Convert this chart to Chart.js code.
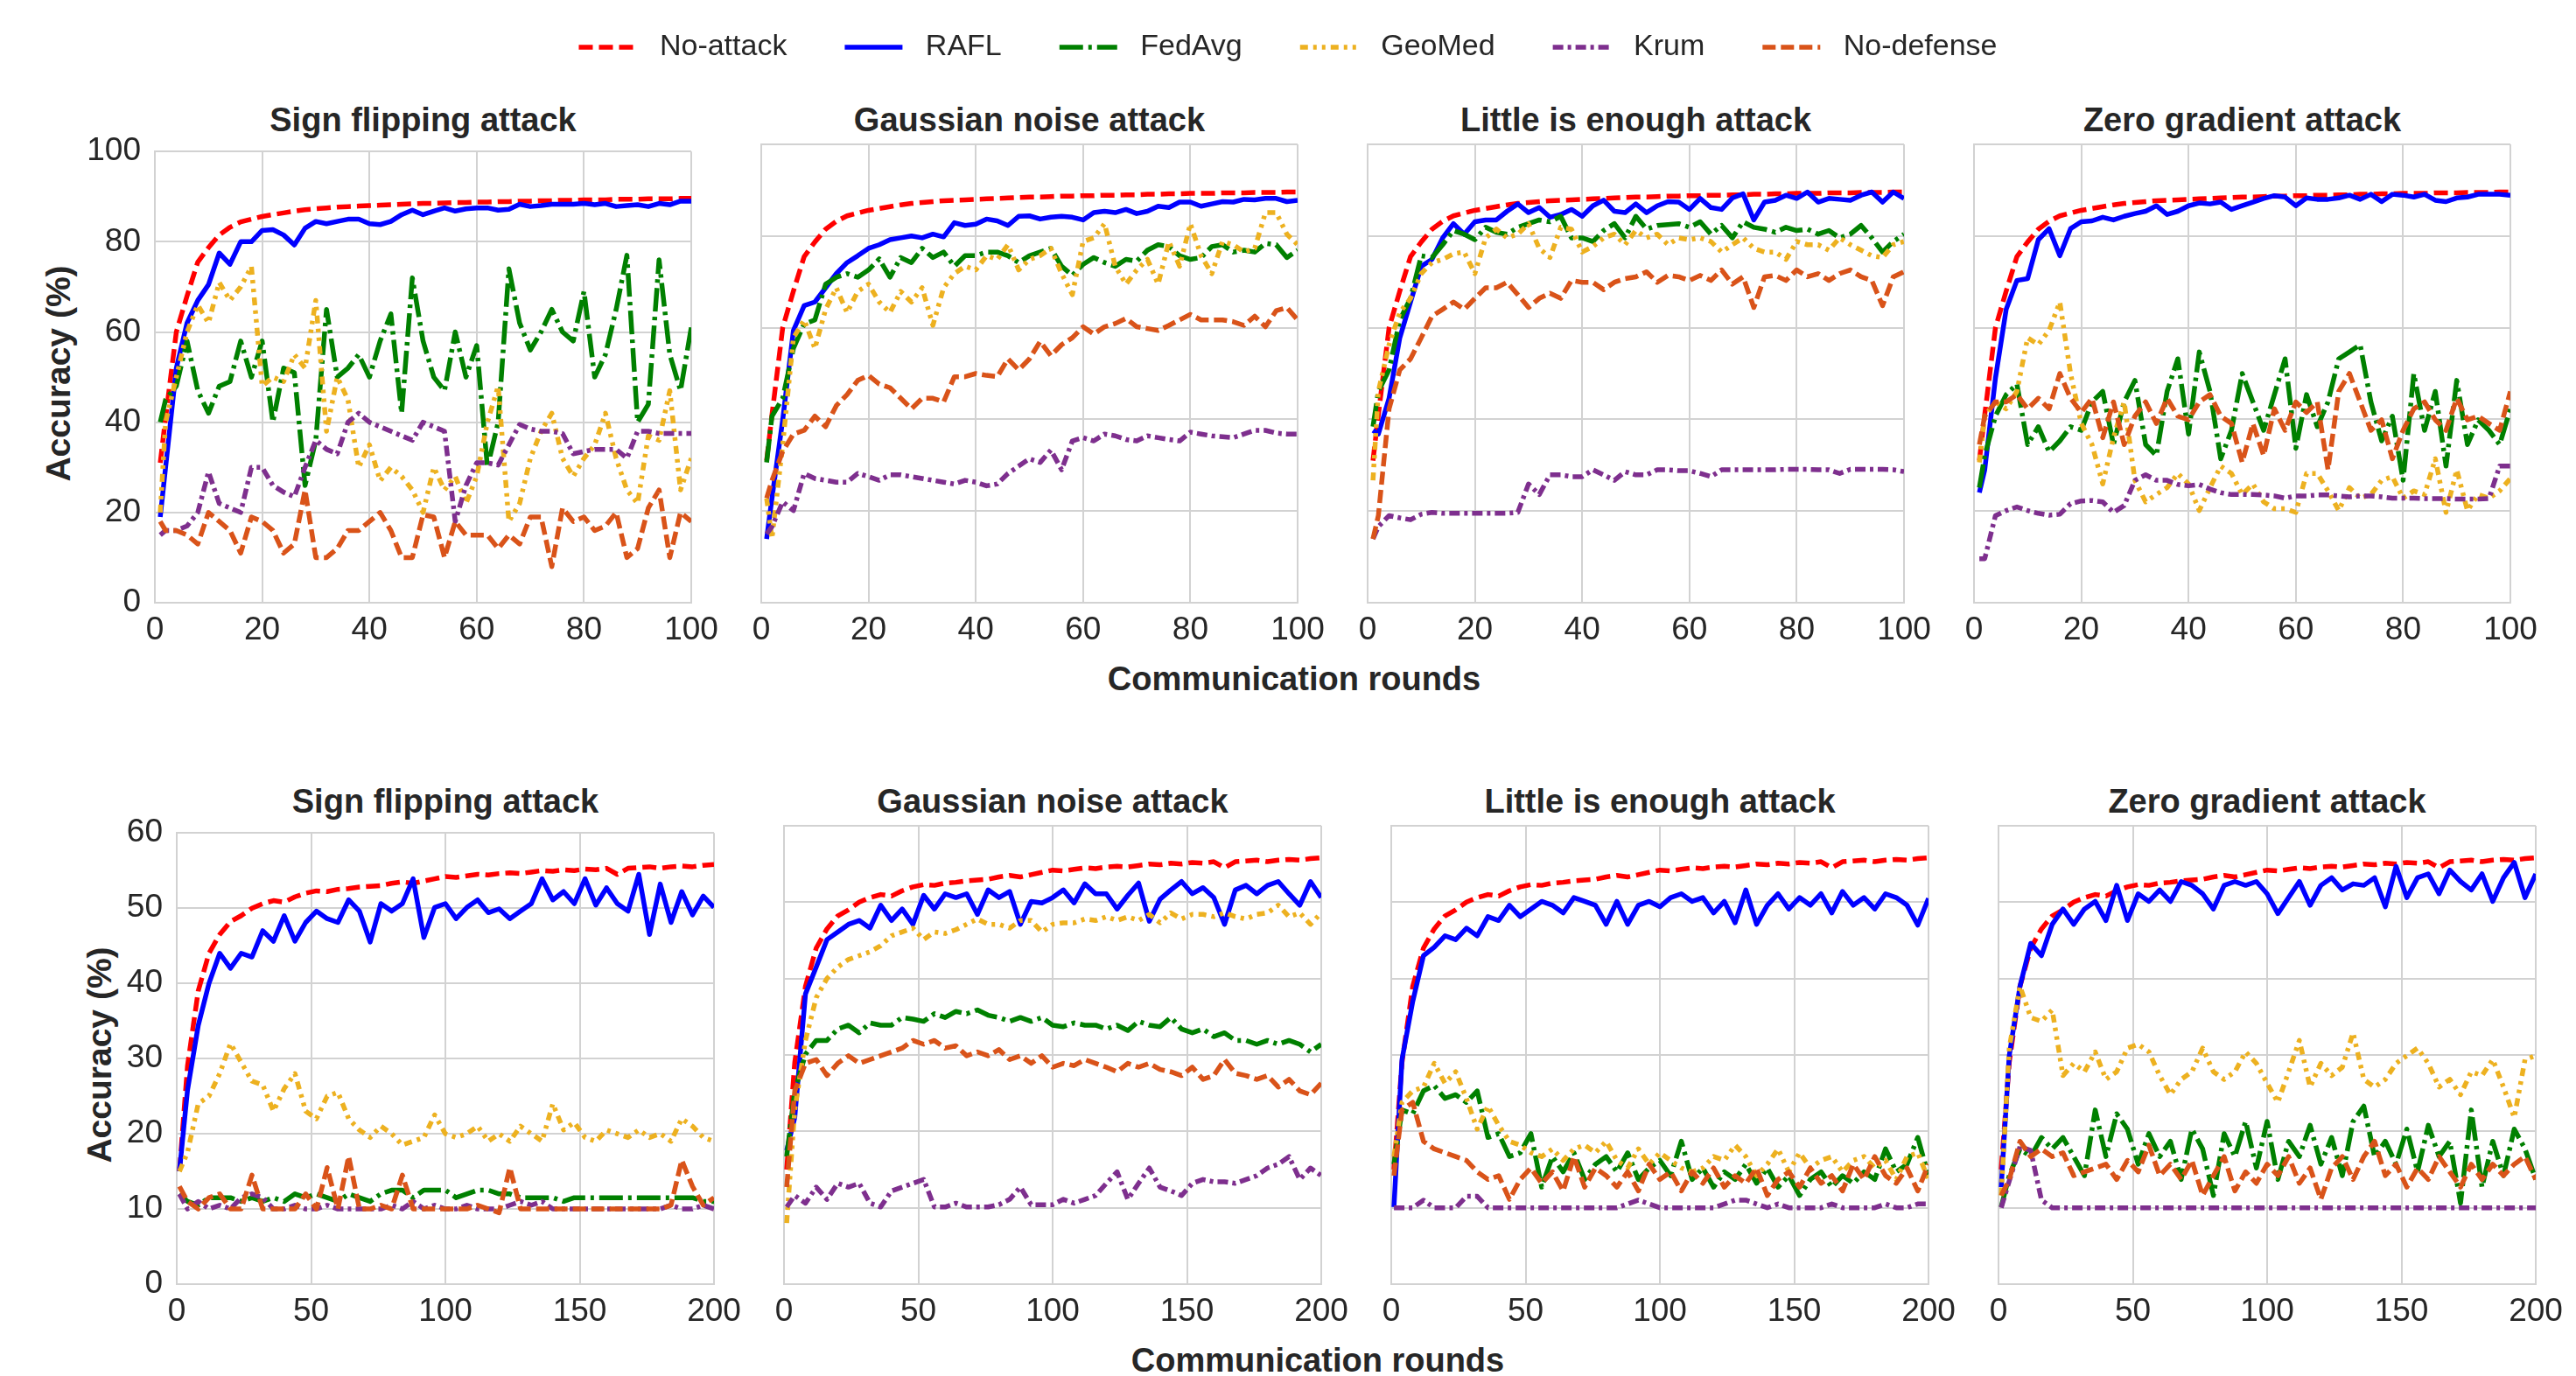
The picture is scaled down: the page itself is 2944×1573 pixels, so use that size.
<!DOCTYPE html>
<html>
<head>
<meta charset="utf-8">
<script src="https://cdn.jsdelivr.net/npm/chart.js@4.4.1/dist/chart.umd.min.js"></script>
<style>
  html, body { margin: 0; padding: 0; background: #fff; }
  body { width: 2944px; height: 1573px; position: relative; overflow: hidden;
         font-family: "Liberation Sans", Arial, sans-serif; color: #262626; }
  canvas { position: absolute; }
  .lbl { position: absolute; font-weight: bold; font-size: 38px; line-height: 1;
         white-space: nowrap; transform: translate(-50%, -50%); }
  .ylbl { transform: translate(-50%, -50%) rotate(-90deg); font-size: 39px; }
</style>
</head>
<body>
<div class="lbl" style="left:1479px;top:776px">Communication rounds</div>
<div class="lbl" style="left:1506px;top:1555px">Communication rounds</div>
<div class="lbl ylbl" style="left:66px;top:427px">Accuracy (%)</div>
<div class="lbl ylbl" style="left:113px;top:1206px">Accuracy (%)</div>
<script>
// ---- rounds (x values) ----
const roundsTop = [1,2,4,6,8,10,12,14,16,18,20,22,24,26,28,30,32,34,36,38,40,42,44,46,48,50,
  52,54,56,58,60,62,64,66,68,70,72,74,76,78,80,82,84,86,88,90,92,94,96,98,100];
const roundsBottom = [1,4,8,12,16,20,24,28,32,36,40,44,48,52,56,60,64,68,72,76,80,84,88,92,96,100,
  104,108,112,116,120,124,128,132,136,140,144,148,152,156,160,164,168,172,176,180,184,188,192,196,200];

const seriesNames = ["No-attack", "RAFL", "FedAvg", "GeoMed", "Krum", "No-defense"];
const panelTitles = ["Sign flipping attack", "Gaussian noise attack", "Little is enough attack", "Zero gradient attack"];
const xTicksTop = [0, 100, 20];      // min, max, step
const yTicksTop = [0, 100, 20];
const xTicksBottom = [0, 200, 50];
const yTicksBottom = [0, 60, 10];

// ---- top row (accuracy %, 100 rounds) ----
const noAttackTop = [31,
  41,60,68,75.5,78.7,81.5,83.2,84.4,85,85.6,
  86,86.4,86.8,87.1,87.3,87.5,87.7,87.8,87.9,88,
  88.1,88.2,88.3,88.4,88.5,88.5,88.6,88.7,88.7,88.8,
  88.8,88.9,88.9,89,89,89.1,89.1,89.2,89.2,89.3,
  89.3,89.3,89.4,89.4,89.4,89.5,89.5,89.5,89.6,89.6];

const signTopRAFL = [19,
  30,52,62,67,70.5,77.5,75,80,80,82.5,
  82.7,81.5,79.3,83,84.5,84,84.5,85,85,84,
  83.8,84.5,86,87,86,86.8,87.5,86.8,87.3,87.5,
  87.5,87,87.2,88.3,87.8,88,88.3,88.3,88.3,88.5,
  88.2,88.5,87.8,88,88.2,87.8,88.5,88.2,89,89];
const signTopFedAvg = [40,
  45,48,58,47,42,48,49,58,50,58,
  40,52,51,26,36,65,50,52,55,50,
  58,64,42,72,58,50,47,60,50,57,
  30,40,74,62,56,60,65,60,58,69,
  50,55,65,77,40,44,76,55,47,61];
const signTopGeoMed = [20,
  40,50,60,66,62,71,67,70,74.5,48,
  50,49,55,52,67,38,50,45,30,35,
  27,30,28,25,20,30,25,28,22,28,
  40,48,18,22,32,38,42,32,28,32,
  35,42,32,25,22,37,36,47,25,32];
const signTopKrum = [15,
  16,16,17,20,29,22,21,20,30,30,
  26,24.5,23.5,30,36,34,33,40,42,40,
  39,38,37,36,40,39,38,18,26,31,
  31,30.5,35,39.5,38.5,38,38,37.5,33,33.5,
  34,34,34,32,38,38,37.5,37.5,37.5,37.5];
const signTopNoDef = [18,
  16,16,15,13,20,18,16,11,19,18,
  16,11,13,25,10,10,12,16,16,18,
  20,16,10,10,19.5,19,10,18,15,15,
  15,12,15,13,19,19,8,21,18,19,
  16,17,20,10,12,21,25,10,20,18];

const gaussTopRAFL = [13.9,
  22.8,39.9,59.4,64.8,65.6,68.7,71.8,74.2,75.7,77.3,
  78.1,79.2,79.6,80,79.6,80.4,79.8,82.9,82.3,82.6,
  83.7,83.3,82.3,84.3,84.4,83.7,84.1,84.3,84.1,83.5,
  85.1,85.4,85.1,85.8,84.9,85.4,86.5,86.2,87.4,87.4,
  86.5,87,87.5,87.4,88,87.9,88.2,88.2,87.5,87.8];
const gaussTopFedAvg = [30.6,
  40.7,44.6,55.5,60.8,61.7,69.5,71,71.8,71,72.6,
  75,71,75.3,74.2,77.3,75.3,76.5,73.4,75.7,75.7,
  76.5,76.5,75.7,74.2,75.7,76.5,77.3,73.4,71.4,73.8,
  75.3,74.2,73.4,74.9,74.5,76.9,78.1,77.7,75.7,74.9,
  75.3,77.7,78.1,76.5,76.9,76.5,78.4,78.1,75.3,76.9];
const gaussTopGeoMed = [22.8,
  14,34.5,57.8,61.7,55.5,64,68.7,63.3,67.9,69.5,
  65.6,63.3,67.9,65.6,68.7,60.5,68.7,71.8,73.4,72.6,
  75.7,74.9,78.1,72.6,74.9,75.7,77.3,71.8,67.2,78.8,
  79.6,82.7,73.4,69.5,72.6,74.9,69.5,78.8,73.4,82.7,
  75.7,71.8,78.8,78.1,76.5,77.3,85.1,85.1,80.4,78.1];
const gaussTopKrum = [15,
  16.6,22,20.1,28.2,27.1,26.7,26.3,26.3,28.2,27.5,
  26.7,27.9,27.9,27.5,27.1,26.7,26.3,25.9,26.7,26.3,
  25.5,25.9,28.2,29.8,31.4,30.6,33.3,29,35.3,36,
  35.3,36.8,36.4,35.6,35.3,36.4,36,35.6,35.3,37.2,
  36.8,36.4,36.2,36,36.8,37.6,37.6,37,36.8,36.8];
const gaussTopNoDef = [22.8,
  26.7,33,36.8,37.6,40.7,38.4,43,45.4,48.5,49.6,
  47.7,46.9,44.6,42.3,44.6,44.6,43.8,49.3,49.3,50,
  49.6,49.3,53.2,50.8,53.2,57,53.9,56.3,57.8,60.2,
  58.6,60.2,60.9,62,60.2,59.8,59.4,60.5,61.7,62.9,
  61.7,61.7,61.7,61.3,60.5,62.5,60.2,63.7,64.4,61.7];

const littleTopRAFL = [37.6,
  36.8,44.6,57.8,65.6,73.4,74.9,79.6,82.7,80.4,83.1,
  83.5,83.5,85.4,87,85.1,86.2,84.1,84.7,85.8,84.3,
  86.6,87.8,85.4,85.1,87,85.1,86.6,87.5,87.4,85.8,
  88.2,86.2,85.8,88.3,89.2,83.5,87.4,87.8,88.9,88.2,
  89.6,87.4,88.2,88,87.8,88.9,89.6,87.4,89.6,88.2];
const littleTopFedAvg = [38.4,
  46.1,50.8,61.7,66.4,75.7,75.3,78.1,81.2,80.4,79.2,
  81.9,80.8,80.4,81.9,82.7,83.5,83.1,84.3,79.6,79.6,
  78.8,81.2,82.7,79.6,84.3,81.5,82.3,82.5,82.7,81.9,
  83.1,80.4,82.3,79.6,83.1,81.9,81.5,80.8,81.9,81.2,
  81.5,80.4,81.2,79.6,80.4,82.3,79.6,76.5,78.8,80.4];
const littleTopGeoMed = [26.7,
  46.1,56.3,63.3,66.4,71.8,74.2,74.9,76.1,76.5,71.8,
  79.6,81.5,79.6,80.4,82.7,77.3,75.3,81.9,81.5,76.5,
  77.7,79.6,80.4,78.1,81.2,79.6,80.4,78.1,79.6,79.2,
  79.6,78.8,76.5,78.1,79.6,77.3,76.5,76.5,74.9,78.8,
  78.1,78.1,76.9,79.6,78.1,76.9,75.7,75.3,78.1,78.8];
const littleTopKrum = [13.9,
  16.6,19,18.5,18.1,19.3,19.7,19.5,19.5,19.5,19.5,
  19.5,19.5,19.5,19.7,25.9,23.6,27.9,27.9,27.5,27.5,
  29,27.9,26.7,28.6,27.9,27.9,29,29,28.8,28.8,
  28.2,27.5,29,29,29,29,29,29,29.1,29.1,
  29.1,29,29,28.2,29.1,29.1,29.1,29.1,29,28.6];
const littleTopNoDef = [13.9,
  19,42.3,50.8,53.2,57.8,62.5,64,65.6,64,66.4,
  68.7,68.7,69.9,67.2,64.4,66.4,67.5,66.4,70.3,69.9,
  69.9,68.3,69.9,70.7,71.1,72.2,69.9,71.4,71.1,70.3,
  71.4,70.3,72.6,69.5,71.1,64.4,71.1,71.4,70.3,72.6,
  71.1,71.8,70.3,71.8,72.6,71.1,70.3,64.8,71.1,72.2];

const zeroTopRAFL = [24,
  29,49,64,70.3,70.7,79.2,81.6,75.7,81.6,83.1,
  83.3,84.1,83.5,84.3,84.9,85.4,86.6,84.7,85.4,86.6,
  87.2,87,87.4,85.8,86.6,87.4,88.2,88.8,88.5,86.6,
  88.3,88,88,88.3,88.9,88,89.1,87.5,89.1,88.9,
  88.5,89.1,87.8,87.5,88.3,88.5,89.1,89.1,89.1,88.9];
const zeroTopFedAvg = [25.1,
  32.1,40.7,45.4,47.7,34.5,38.4,32.9,35.3,38.4,37.6,
  43.8,46.1,34.5,43.8,48.5,34.5,32.1,46.1,53.2,36.8,
  54.7,46.1,31.4,37.6,50,43.8,37.6,45.4,53.2,33.7,
  45.4,38.4,43.8,53.2,54.7,56.3,43.8,35.3,40.7,26.7,
  50,37.6,46.1,29.8,48.5,34.5,39.9,37.6,34.5,42.3];
const zeroTopGeoMed = [30.6,
  40.7,43.8,42.3,46.1,57.8,56.3,59.4,65.6,50,39.1,
  34.5,25.9,36,43.8,26.7,22,23.6,25.1,28.2,25.9,
  20.1,25.1,29.8,28.2,23.6,25.9,22,20.5,20.5,19.7,
  28.2,28.2,24.4,20.1,25.1,22.8,23.6,26.7,27.5,22.8,
  24.4,23.6,31.4,19.7,29,20.1,23.6,22.8,24.4,27.1];
const zeroTopKrum = [9.6,
  9.6,19,20.1,20.9,20.1,19.5,19.1,19.3,21.6,22.2,
  22.3,22,19.7,21.2,26.7,27.9,26.7,26.7,25.8,25.5,
  25.8,24.8,24,23.6,23.6,23.6,23.5,23.3,22.8,23.3,
  23.3,23.5,23.5,23.3,23.1,23.3,23.3,23.1,22.8,22.8,
  22.8,22.7,22.7,22.7,22.6,22.6,22.6,22.7,29.8,29.8];
const zeroTopNoDef = [34.5,
  40.7,43.8,43.8,45.4,42.3,44.6,42.3,50,44.6,41.5,
  44.6,36,43.8,34.5,40.7,43.8,39.1,44.6,40.7,39.9,
  43.8,45.4,40.7,39.1,30.6,39.1,32.1,42.3,37.6,43.8,
  41.5,43.8,29,46.1,50,43.8,37.6,39.9,31.4,37.6,
  42.3,43.8,39.9,37.6,44.6,39.9,40.7,39.1,37.6,46.1];

// ---- bottom row (accuracy %, 200 rounds) ----
const noAttackBottom = [15,
  29,39,44,46.5,48.2,49,50,50.6,51,50.8,
  51.5,52,52.3,52.2,52.5,52.6,52.8,52.9,53,53.3,
  53.5,53.3,53.6,53.9,54.2,54.1,54.3,54.5,54.4,54.6,
  54.7,54.6,54.8,55,54.9,55.1,55,55.2,55.1,55.3,
  54.5,55.3,55.4,55.5,55.3,55.5,55.6,55.5,55.7,55.8];

const signBotRAFL = [15,
  25.8,34.4,40,44,42,44,43.5,47,45.6,49,
  45.6,48.1,49.6,48.6,48.1,51.1,49.6,45.5,50.6,49.6,
  50.6,53.9,46.1,50.1,50.6,48.6,50.1,51.1,49.4,49.9,
  48.6,49.6,50.6,53.9,51.1,52.2,50.6,53.9,50.4,52.7,
  50.6,49.6,54.5,46.5,53.2,48.1,52.2,49.1,51.6,50.1];
const signBotFedAvg = [12,
  11,10.5,11.5,11.5,11.5,11,11.5,11,11.5,11,
  12,11.5,12,11.5,11,12,11.5,11,12,12.5,
  12.5,11.5,12.5,12.5,12.5,11.5,12,12.5,12.5,12,
  12,11.5,11.5,11.5,11.5,11,11.5,11.5,11.5,11.5,
  11.5,11.5,11.5,11.5,11.5,11.5,11.5,11.5,11,11];
const signBotGeoMed = [15,
  17.5,24,25,28,32,29.5,27,26.5,23,26,
  28,23,22,25,25.5,22,20.5,19.5,21,20,
  18.5,19,19.5,22.5,20,19.5,20,21,19,20,
  19,21,20,19,24,20.5,21.5,19.5,19,20.5,
  20,19.5,20.5,19.5,20,19,22,21,19.5,19];
const signBotKrum = [12,
  10,11,10,10.5,10,11.5,12,11.5,10,10,
  10.5,10,10,10.5,10,10,10,10,10,10.5,
  10,11,10,10.5,10,10,10.5,10,10,10,
  10.5,11,10.5,11,10,10,10,10,10,10,
  10,10,10,10,10,10.5,10,10,10.5,10];
const signBotNoDef = [13,
  11,10,11.5,12,10,10,14.5,10,10,10,
  10,12,10,15.5,10,17,10,10,10.5,10,
  14.5,10,10,10,10,10,10,10.5,10,9.5,
  15.5,10,10,10,10,10,10,10,10,10,
  10,10,10,10,10,10.5,16.5,13,10.5,11.5];

const gaussBotRAFL = [17.5,
  21.8,38,41.5,45.1,46.1,47.1,47.6,46.6,49.6,47.6,
  49.1,47.1,50.9,49.1,51.1,50.6,51.1,48.4,51.6,50.6,
  51.4,47.1,50.1,49.9,50.6,51.6,49.9,52.4,51.1,51.1,
  49.1,50.9,52.5,47.5,50.4,51.6,52.7,51.1,51.9,50.6,
  47.1,51.6,52.2,51.1,52.2,52.7,51.1,49.6,52.7,50.6];
const gaussBotFedAvg = [16.7,
  25.3,30.1,31.9,31.9,33.4,33.9,32.9,34.2,33.9,33.9,
  34.9,34.7,34.4,35.4,34.9,35.7,35.4,35.9,35.2,34.9,
  34.4,34.9,34.4,34.9,33.9,33.7,34.2,33.9,33.9,33.4,
  33.9,33.2,34.4,33.9,33.7,34.9,33.4,32.9,33.4,32.4,
  32.9,31.9,31.9,31.4,31.9,31.4,31.9,31.4,30.4,31.4];
const gaussBotGeoMed = [8,
  22.8,31.9,37.5,40,41.5,42.5,43,43.5,44.3,45.6,
  46.1,46.6,45.1,46.1,45.9,46.4,47.1,47.8,47.1,47.1,
  46.6,47.6,47.6,46.1,47.1,47.3,47.3,47.8,47.6,48.1,
  47.6,48.1,47.6,48.4,47.3,48.6,47.8,48.4,48.4,48.1,
  48.6,48.1,47.8,48.4,48.6,49.6,48.1,48.6,47.1,48.6];
const gaussBotKrum = [10.1,
  11.6,10.6,12.7,11.1,13.2,12.7,13.2,10.6,10.1,12.2,
  12.7,13.2,13.7,10.1,10.1,10.6,10.1,10.1,10.1,10.4,
  11.1,12.7,10.4,10.4,10.4,11.1,10.6,11.1,11.6,13.2,
  14.7,11.1,13.2,15.2,12.7,12.2,11.6,13.2,13.7,13.4,
  13.4,13.2,13.7,14.2,15.2,15.7,16.7,13.7,15.2,14.2];
const gaussBotNoDef = [12.7,
  25.3,28.9,29.4,27.3,28.9,29.9,28.9,29.4,29.9,30.4,
  30.9,31.9,31.4,31.9,30.9,31.2,29.9,30.4,29.9,30.7,
  29.4,29.9,28.9,29.9,28.4,28.9,28.6,29.4,28.9,28.4,
  27.8,28.9,28.4,28.9,28.1,27.8,27.3,28.4,26.8,27.3,
  29.4,27.6,27.3,26.8,27.3,25.8,26.8,25.3,24.8,26.3];

const littleBotRAFL = [10.1,
  29.4,37,43,44.1,45.6,45.1,46.6,45.6,48.1,47.6,
  49.6,48.1,49.1,50.1,49.6,48.6,50.6,50.1,49.6,47.1,
  50.1,47.1,49.6,50.1,49.4,50.6,51.1,50.1,50.6,48.6,
  50.1,47.3,51.6,47.1,49.6,51.1,49.1,50.6,49.6,51.1,
  48.6,51.4,49.6,50.6,49.1,51.1,50.6,49.6,47,50.5];
const littleBotFedAvg = [15.7,
  22.8,22.3,25.3,26,24.3,24.8,23.8,25.3,19.2,19.7,
  16.7,17.2,19.7,12.7,16.7,14.7,17.2,13.7,15.7,16.7,
  14.7,17.2,13.7,15.2,16.2,14.2,18.7,13.7,15.2,12.7,
  14.7,13.7,15.7,13.2,15.2,12.7,14.2,11.6,13.7,14.7,
  12.7,14.2,13.2,14.7,13.7,17.7,14.7,15.7,19.2,14.2];
const littleBotGeoMed = [16.7,
  23.8,25.3,25.8,28.9,26.3,27.8,24.3,20.3,23.3,20.8,
  18.7,18.2,17.2,16.7,17.7,16.2,17.7,18.2,17.2,18.7,
  16.2,15.2,17.7,15.7,17.2,16.2,15.2,14.7,15.2,16.7,
  16.2,18.2,16.7,14.2,15.7,17.7,14.7,17.2,15.2,16.2,
  16.7,14.7,16.2,16.7,15.2,16.2,13.7,16.7,17.2,13.7];
const littleBotKrum = [10,
  10,10,11,10,10,10,11.5,11.5,10,10,
  10,10,10,10,10,10,10,10,10,10,
  10,10.5,11,10.5,10,10,10,10,10,10,
  10.5,11,11,10.5,10,10.5,10,10,10,10,
  10.5,10,10,10,10,10.5,10,10,10.5,10.5];
const littleBotNoDef = [14.2,
  22.8,23.8,18.7,17.7,17.2,16.7,16.2,14.7,13.7,14.2,
  11.1,13.7,15.2,13.2,14.7,12.2,16.7,12.7,15.2,14.2,
  12.7,14.7,12.2,15.7,13.7,14.7,12.2,14.7,13.2,15.2,
  12.7,14.2,13.2,15.2,11.6,13.7,14.7,12.7,15.2,13.2,
  14.2,12.2,15.7,13.7,16.7,14.2,13.2,15.2,12.2,15.7];

const zeroBotRAFL = [12.7,
  29.9,39,44.6,43,47.1,49.1,47.1,49.1,50.1,47.6,
  52.2,47.6,51.1,50.1,51.6,50.1,52.7,52.2,51.1,49.1,
  52.2,52.7,52.2,52.7,51.1,48.5,50.6,52.7,49.6,52.2,
  53.2,51.6,52.4,52.2,53.2,49.4,54.7,50.6,53.2,53.7,
  51.1,54.2,52.7,51.6,53.7,50.1,53.2,55.2,50.6,53.7];
const zeroBotFedAvg = [10.1,
  14.2,17.7,16.7,19.2,17.7,19.2,16.7,14.2,22.8,16.7,
  22.3,20.3,15.7,19.7,16.7,18.7,13.7,20.3,17.7,11.6,
  19.7,16.7,21.3,15.2,21.3,13.7,18.7,16.7,20.8,15.7,
  19.2,14.2,21.3,23.3,16.7,18.7,15.7,20.3,14.7,20.8,
  16.7,18.7,10.6,22.8,12.7,18.7,14.2,20.3,17.7,13.7];
const zeroBotGeoMed = [11.6,
  30.9,39,34.9,34.4,35.9,27.3,28.9,27.8,30.4,26.8,
  27.8,30.9,31.4,30.4,27.3,24.8,26.8,27.8,30.9,27.8,
  26.8,27.8,30.4,28.9,26.3,23.8,27.8,31.9,25.8,28.9,
  27.3,28.4,32.9,26.8,25.8,26.8,28.9,29.9,30.9,28.9,
  25.8,26.8,24.8,27.8,27.3,29.4,25.8,21.8,29.4,29.9];
const zeroBotKrum = [10,
  13.5,18,17.5,11,10,10,10,10,10,10,
  10,10,10,10,10,10,10,10,10,10,
  10,10,10,10,10,10,10,10,10,10,
  10,10,10,10,10,10,10,10,10,10,
  10,10,10,10,10,10,10,10,10,10];
const zeroBotNoDef = [11.6,
  13.7,18.7,16.7,17.7,16.7,17.2,14.2,14.7,15.2,15.7,
  13.7,16.2,14.7,18.2,14.2,15.7,13.7,16.2,11.6,14.2,
  16.7,12.2,14.7,13.2,15.7,14.2,16.7,13.2,15.2,11.1,
  15.2,16.7,13.7,16.7,18.7,14.2,15.7,12.7,15.2,13.7,
  16.7,14.7,12.7,15.7,13.7,15.7,14.2,15.7,16.7,13.7];

// ---- styles ----
const FONT = "'Liberation Sans', Arial, sans-serif";
const TEXT = '#262626';
const GRID = '#d2d2d2';
const STYLE = [
  { color: '#ff0000', dash: [16, 7] },
  { color: '#0000ff', dash: [] },
  { color: '#008000', dash: [27, 6, 4, 6] },
  { color: '#edb120', dash: [9, 6, 4, 6, 4, 6] },
  { color: '#7e2f8e', dash: [12, 5, 4, 5] },
  { color: '#d95319', dash: [15, 6] }
];
const LW = 5.5;

const panels = [
  { title: 0, rounds: roundsTop, xt: xTicksTop, yt: yTicksTop, left: 177, top: 165, w: 613, h: 524, first: true,
    values: [noAttackTop, signTopRAFL, signTopFedAvg, signTopGeoMed, signTopKrum, signTopNoDef] },
  { title: 1, rounds: roundsTop, xt: xTicksTop, yt: yTicksTop, left: 870, top: 165, w: 613, h: 524,
    values: [noAttackTop, gaussTopRAFL, gaussTopFedAvg, gaussTopGeoMed, gaussTopKrum, gaussTopNoDef] },
  { title: 2, rounds: roundsTop, xt: xTicksTop, yt: yTicksTop, left: 1563, top: 165, w: 613, h: 524,
    values: [noAttackTop, littleTopRAFL, littleTopFedAvg, littleTopGeoMed, littleTopKrum, littleTopNoDef] },
  { title: 3, rounds: roundsTop, xt: xTicksTop, yt: yTicksTop, left: 2256, top: 165, w: 613, h: 524,
    values: [noAttackTop, zeroTopRAFL, zeroTopFedAvg, zeroTopGeoMed, zeroTopKrum, zeroTopNoDef] },
  { title: 0, rounds: roundsBottom, xt: xTicksBottom, yt: yTicksBottom, left: 202, top: 944, w: 614, h: 524, first: true,
    values: [noAttackBottom, signBotRAFL, signBotFedAvg, signBotGeoMed, signBotKrum, signBotNoDef] },
  { title: 1, rounds: roundsBottom, xt: xTicksBottom, yt: yTicksBottom, left: 896, top: 944, w: 614, h: 524,
    values: [noAttackBottom, gaussBotRAFL, gaussBotFedAvg, gaussBotGeoMed, gaussBotKrum, gaussBotNoDef] },
  { title: 2, rounds: roundsBottom, xt: xTicksBottom, yt: yTicksBottom, left: 1590, top: 944, w: 614, h: 524,
    values: [noAttackBottom, littleBotRAFL, littleBotFedAvg, littleBotGeoMed, littleBotKrum, littleBotNoDef] },
  { title: 3, rounds: roundsBottom, xt: xTicksBottom, yt: yTicksBottom, left: 2284, top: 944, w: 614, h: 524,
    values: [noAttackBottom, zeroBotRAFL, zeroBotFedAvg, zeroBotGeoMed, zeroBotKrum, zeroBotNoDef] }
];

const problems = [];

function addCanvas(left, top, w, h) {
  const c = document.createElement('canvas');
  c.width = w; c.height = h;
  c.style.left = left + 'px'; c.style.top = top + 'px';
  c.style.width = w + 'px'; c.style.height = h + 'px';
  document.body.appendChild(c);
  return c;
}

function makePanel(p, n) {
  const yw = 100, padTop = 30, padRight = 50, xh = 64;
  p.values.forEach((v, i) => {
    if (v.length !== p.rounds.length) problems.push('panel ' + n + ' series ' + i + ' has ' + v.length);
  });

  const t = document.createElement('div');
  t.className = 'lbl';
  t.textContent = panelTitles[p.title];
  t.style.left = (p.left + p.w / 2) + 'px';
  t.style.top = (p.top - 28) + 'px';
  document.body.appendChild(t);

  const c = addCanvas(p.left - yw, p.top - padTop, yw + p.w + padRight, padTop + p.h + xh);
  const tickFont = { family: FONT, size: 37 };
  new Chart(c, {
    type: 'line',
    data: {
      datasets: seriesNames.map((name, i) => ({
        label: name,
        data: p.values[i].map((y, k) => ({ x: p.rounds[k], y })),
        borderColor: STYLE[i].color,
        backgroundColor: STYLE[i].color,
        borderWidth: LW,
        borderDash: STYLE[i].dash,
        borderCapStyle: 'butt',
        borderJoinStyle: 'round',
        pointRadius: 0,
        tension: 0,
        fill: false,
        order: 6 - i
      }))
    },
    options: {
      responsive: false,
      animation: false,
      events: [],
      layout: { padding: { top: padTop, right: padRight, left: 0, bottom: 0 } },
      plugins: { legend: { display: false }, tooltip: { enabled: false } },
      scales: {
        x: {
          type: 'linear', min: p.xt[0], max: p.xt[1],
          ticks: { stepSize: p.xt[2], font: tickFont, color: TEXT, padding: 10, maxRotation: 0, autoSkip: false },
          grid: { color: GRID, lineWidth: 2, drawTicks: false },
          border: { color: GRID, width: 2 },
          afterFit: s => { s.height = xh; }
        },
        y: {
          type: 'linear', min: p.yt[0], max: p.yt[1],
          ticks: { display: !!p.first, stepSize: p.yt[2], font: tickFont, color: TEXT, padding: 16 },
          grid: { color: GRID, lineWidth: 2, drawTicks: false },
          border: { color: GRID, width: 2 },
          afterFit: s => { s.width = yw; }
        }
      }
    }
  });
}

panels.forEach(makePanel);

// shared legend (tall canvas so the legend box is not capped at half the height)
const legendCanvas = addCanvas(0, -29, 2944, 320);
new Chart(legendCanvas, {
  type: 'line',
  data: {
    datasets: seriesNames.map((name, i) => ({
      label: name, data: [], borderColor: STYLE[i].color, borderDash: STYLE[i].dash, borderWidth: LW
    }))
  },
  options: {
    responsive: false,
    animation: false,
    events: [],
    layout: { padding: 0 },
    scales: { x: { display: false }, y: { display: false } },
    plugins: {
      tooltip: { enabled: false },
      legend: {
        display: true, position: 'top',
        labels: {
          usePointStyle: true, pointStyle: 'line', pointStyleWidth: 66,
          padding: 66, color: TEXT, font: { family: FONT, size: 34 },
          generateLabels: chart => chart.data.datasets.map((d, i) => ({
            text: ' ' + d.label,
            fillStyle: d.borderColor, strokeStyle: d.borderColor,
            lineWidth: LW, lineDash: d.borderDash, lineCap: 'butt',
            pointStyle: 'line', hidden: false, datasetIndex: i, fontColor: TEXT
          }))
        }
      }
    }
  }
});

if (problems.length) throw new Error(problems.join('; '));
</script>
</body>
</html>
